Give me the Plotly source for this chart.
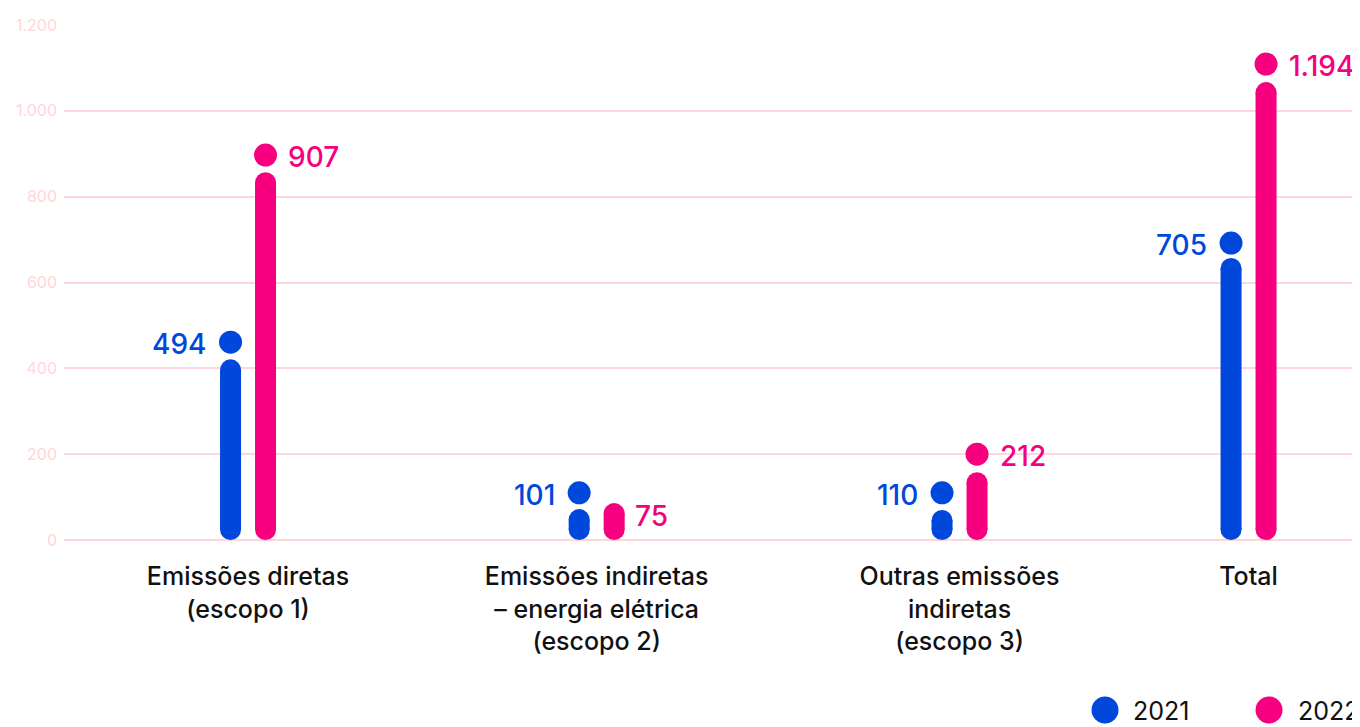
import plotly.graph_objects as go

# ---------------- data ----------------
CATEGORIES = [
    "Emissões diretas<br>(escopo 1)",
    "Emissões indiretas<br>– energia elétrica<br>(escopo 2)",
    "Outras emissões<br>indiretas<br>(escopo 3)",
    "Total",
]
YEARS = ["2021", "2022"]
LABELS_2021 = [494, 101, 110, 705]
LABELS_2022 = [907, 75, 212, 1194]
# heights as drawn against the axis (dot centre / top of the bar)
DOT_2021 = [461, 110, 110, 692]
DOT_2022 = [897, None, 200, 1109]
BAR_TOP_2021 = [421, 72, 70, 657]
BAR_TOP_2022 = [857, 86, 158, 1067]
Y_TICKS = [0, 200, 400, 600, 800, 1000, 1200]

# ---------------- style / layout ----------------
BLUE = "#0047DB"
PINK = "#F6007F"
GRID = "#FFD6DB"
FONT = "Inter"
CAT_X = [1.42, 4.11, 6.91, 9.14]
PAIR_OFFSET = 0.135
PAGE_OFF = 8  # page body margin in the browser
W, H = 1360 - PAGE_OFF, 727 - PAGE_OFF
M_L, M_R, M_T, M_B = 64 - PAGE_OFF, 0, 25 - PAGE_OFF, 187
PLOT_H = H - M_T - M_B
PLOT_W = W - M_L - M_R
UNITS_PER_PX = 1200 / PLOT_H
BAR_W = 21
DOT_D = 23


def fmt(v):
    return f"{v:,}".replace(",", ".")


fig = go.Figure()
annotations = []

series = [
    (YEARS[0], BLUE, DOT_2021, BAR_TOP_2021, LABELS_2021, -1),
    (YEARS[1], PINK, DOT_2022, BAR_TOP_2022, LABELS_2022, 1),
]

for name, color, dots, tops, labels, side in series:
    bx, by = [], []
    for cx, top in zip(CAT_X, tops):
        x = cx + side * PAIR_OFFSET
        r = BAR_W / 2 * UNITS_PER_PX
        bx += [x, x, None]
        by += [r, top - r, None]
    fig.add_trace(go.Scatter(
        x=bx, y=by, mode="lines+markers",
        line=dict(color=color, width=BAR_W),
        marker=dict(color=color, size=BAR_W, line=dict(width=0)),
        hoverinfo="skip", showlegend=False, name=name,
    ))
    dx = [cx + side * PAIR_OFFSET for cx, d in zip(CAT_X, dots) if d is not None]
    dy = [d for d in dots if d is not None]
    fig.add_trace(go.Scatter(
        x=dx, y=dy, mode="markers",
        marker=dict(color=color, size=DOT_D, line=dict(width=0)),
        showlegend=False, name=name,
    ))
    for cx, d, top, lab in zip(CAT_X, dots, tops, labels):
        x = cx + side * PAIR_OFFSET
        if d is not None:
            y = d
            shift = DOT_D / 2 + (11 if side < 0 else 9)
        else:
            y = top - BAR_W / 2 * UNITS_PER_PX
            shift = BAR_W / 2 + 8
        annotations.append(dict(
            x=x, y=y, xref="x", yref="y", text=fmt(lab), showarrow=False,
            xanchor="right" if side < 0 else "left", yanchor="middle",
            xshift=side * shift, yshift=-2,
            font=dict(family=FONT, size=28, color=color, weight=500),
        ))

# legend (drawn manually, spilling past the right edge like the original)
leg = [(YEARS[0], BLUE, 1105, 1131), (YEARS[1], PINK, 1269, 1296)]
shapes = []
for name, color, cxp, txp in leg:
    px = (cxp - 64) / PLOT_W
    py = (540 - 710) / PLOT_H
    shapes.append(dict(
        type="circle", xref="paper", yref="paper",
        xsizemode="pixel", ysizemode="pixel",
        xanchor=px, yanchor=py, x0=-13.5, x1=13.5, y0=-13.5, y1=13.5,
        fillcolor=color, line=dict(width=0),
    ))
    annotations.append(dict(
        x=(txp - 64) / PLOT_W, y=(540 - 711) / PLOT_H,
        xref="paper", yref="paper", text=name, showarrow=False,
        xanchor="left", yanchor="middle",
        font=dict(family=FONT, size=25, color="#111111", weight=400),
    ))

fig.update_layout(
    width=W, height=H,
    margin=dict(l=M_L, r=M_R, t=M_T, b=M_B, pad=0),
    paper_bgcolor="white", plot_bgcolor="white",
    separators=",.",
    showlegend=False,
    annotations=annotations,
    shapes=shapes,
    xaxis=dict(
        range=[0, 10], tickmode="array", tickvals=CAT_X, ticktext=CATEGORIES,
        showgrid=False, zeroline=False, showline=False, ticks="",
        ticklabelstandoff=19,
        tickfont=dict(family=FONT, size=25, color="#111111", weight=500),
    ),
    yaxis=dict(
        range=[0, 1200], tickmode="array", tickvals=Y_TICKS,
        tickformat=",d",
        showgrid=True, gridcolor=GRID, gridwidth=1.5,
        zeroline=True, zerolinecolor=GRID, zerolinewidth=1.5,
        showline=False, ticks="", ticklabelstandoff=6,
        tickfont=dict(family=FONT, size=16, color=GRID),
    ),
)

fig.write_html("out.html")
